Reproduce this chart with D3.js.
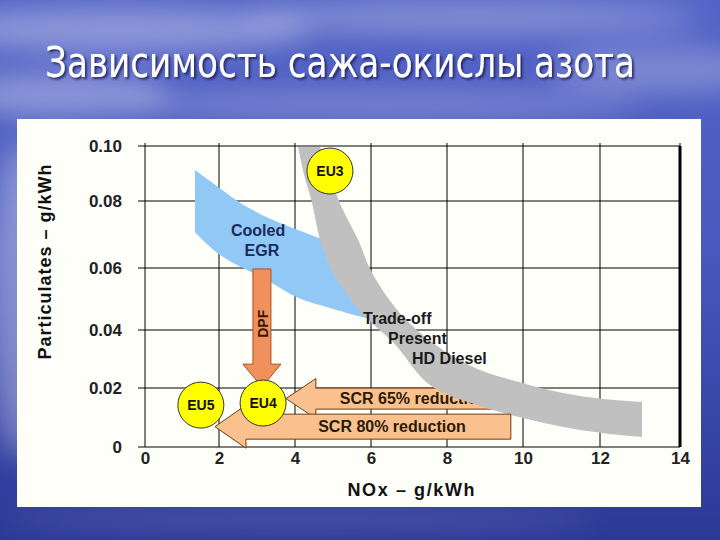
<!DOCTYPE html>
<html>
<head>
<meta charset="utf-8">
<script src="https://cdn.jsdelivr.net/npm/d3@7"></script>
<style>
  html, body { margin: 0; padding: 0; background: #3a48aa; }
  svg { display: block; }
</style>
</head>
<body>
<svg id="chart"></svg>
<script>
// Chart values (NOx g/kWh, particulates g/kWh)
const xTicks = [0, 2, 4, 6, 8, 10, 12, 14];
const yTicks = [0, 0.02, 0.04, 0.06, 0.08, 0.10];
const yTickLabels = ["0", "0.02", "0.04", "0.06", "0.08", "0.10"];

// present HD diesel trade-off band (upper / lower edge)
const tradeoffUpper = [[4.66, 0.0996], [4.92, 0.0895], [5.18, 0.0794], [5.66, 0.0684], [6.03, 0.0584],
  [6.76, 0.0455], [7.63, 0.0355], [8.79, 0.0266], [10.0, 0.0217], [11.04, 0.0183], [12.08, 0.0163], [13.05, 0.0153]];
const tradeoffLower = [[4.08, 0.0996], [4.24, 0.0895], [4.45, 0.0794], [4.66, 0.0684], [5.0, 0.0584],
  [5.76, 0.0455], [6.6, 0.0355], [7.55, 0.021], [8.79, 0.0142], [10.0, 0.0098], [11.04, 0.0068], [12.08, 0.0047], [13.05, 0.0034]];

// cooled EGR band
const egrUpper = [[1.35, 0.0913], [1.84, 0.0865], [2.74, 0.0782], [3.61, 0.0734], [4.61, 0.069], [5.32, 0.0654], [6.03, 0.0439]];
const egrLower = [[1.35, 0.0707], [2.03, 0.0639], [3.26, 0.0561], [4.05, 0.0506], [4.92, 0.0471], [5.84, 0.0439]];

// emission stages
const stageNames = ["EU3", "EU4", "EU5"];
const stageNox = [4.92, 3.16, 1.51];
const stagePm = [0.0909, 0.0149, 0.0142];

// DPF arrow (vertical)
const dpfNox = 3.13;
const dpfPmFrom = 0.0597;
const dpfPmTo = 0.0203;

// SCR arrows (horizontal)
const scrNames = ["SCR 65% reduction", "SCR 80% reduction"];
const scrTipNox = [3.76, 1.89];
const scrTailNox = [9.8, 9.68];
const scrPm = [0.0164, 0.0069];
const scrTextNox = [5.18, 4.61];

// band labels
const egrLabel = ["Cooled", "EGR"];
const egrLabelNox = [3.03, 3.13];
const egrLabelPm = [0.0713, 0.0654];
const tradeoffLabel = ["Trade-off", "Present", "HD Diesel"];
const tradeoffLabelNox = [5.79, 6.45, 7.08];
const tradeoffLabelPm = [0.0439, 0.0372, 0.0303];

const W = 720, H = 540;
const font = "'Liberation Sans', Arial, sans-serif";

const svg = d3.select("#chart").attr("width", W).attr("height", H);
const defs = svg.append("defs");

// ---- slide background ----
const bg = defs.append("linearGradient").attr("id", "sky")
  .attr("x1", 0).attr("y1", 0).attr("x2", 0).attr("y2", 1);
bg.append("stop").attr("offset", "0%").attr("stop-color", "#5464c6");
bg.append("stop").attr("offset", "45%").attr("stop-color", "#4a59bf");
bg.append("stop").attr("offset", "100%").attr("stop-color", "#2b3896");
defs.append("filter").attr("id", "blur").attr("x", "-50%").attr("y", "-50%").attr("width", "200%").attr("height", "200%")
  .append("feGaussianBlur").attr("stdDeviation", 14);
defs.append("filter").attr("id", "shadow")
  .append("feDropShadow").attr("dx", 2).attr("dy", 2).attr("stdDeviation", 1)
  .attr("flood-color", "#151a55").attr("flood-opacity", 0.8);

svg.append("rect").attr("width", W).attr("height", H).attr("fill", "url(#sky)");

const clouds = [[120, 30, 190, 22, 0.35], [470, 18, 230, 16, 0.3], [60, 95, 110, 22, 0.35], [380, 105, 260, 14, 0.25],
  [660, 70, 110, 24, 0.25], [20, 300, 30, 160, 0.35], [300, 520, 300, 8, 0.2]];
svg.append("g").attr("filter", "url(#blur)")
  .selectAll("ellipse").data(clouds).join("ellipse")
  .attr("cx", d => d[0]).attr("cy", d => d[1]).attr("rx", d => d[2]).attr("ry", d => d[3])
  .attr("fill", "#ffffff").attr("opacity", d => d[4]);

// title
svg.append("text")
  .attr("x", 45).attr("y", 77)
  .attr("font-family", "'Liberation Sans Narrow', 'Arial Narrow', 'DejaVu Sans Condensed', sans-serif")
  .attr("font-size", 42)
  .attr("textLength", 590).attr("lengthAdjust", "spacingAndGlyphs")
  .attr("fill", "#ffffff").attr("filter", "url(#shadow)")
  .text("Зависимость сажа-окислы азота");

// white panel
svg.append("rect").attr("x", 17).attr("y", 119).attr("width", 684).attr("height", 388).attr("fill", "#fffffa");

// ---- scales ----
const x = d3.scaleLinear().domain(xTicks).range([145, 219, 295, 371, 447, 523, 600, 680]);
const y = d3.scaleLinear().domain(yTicks).range([447, 388, 330, 268, 201, 146]);

const g = svg.append("g");

// grid
g.append("g").selectAll("line").data(yTicks).join("line")
  .attr("x1", x(0) - 7).attr("x2", x(14))
  .attr("y1", d => y(d)).attr("y2", d => y(d))
  .attr("stroke", "#000").attr("stroke-width", 1);
g.append("g").selectAll("line").data(xTicks).join("line")
  .attr("x1", d => x(d)).attr("x2", d => x(d))
  .attr("y1", y(0.10) - 3).attr("y2", y(0))
  .attr("stroke", "#000").attr("stroke-width", 1);
// thick right border
g.append("line").attr("x1", x(14)).attr("x2", x(14)).attr("y1", y(0.10)).attr("y2", y(0))
  .attr("stroke", "#000").attr("stroke-width", 3);

// axes (labels only)
const yAxis = d3.axisLeft(y).tickValues(yTicks).tickSize(0).tickPadding(23)
  .tickFormat((d, i) => yTickLabels[i]);
const yAxisG = g.append("g").attr("transform", `translate(${x(0)},0)`).call(yAxis);
yAxisG.select(".domain").remove();
yAxisG.selectAll("text").attr("font-family", font).attr("font-size", 17).attr("font-weight", "bold").attr("fill", "#222");

const xAxis = d3.axisBottom(x).tickValues(xTicks).tickSize(0).tickPadding(5).tickFormat(d3.format("d"));
const xAxisG = g.append("g").attr("transform", `translate(0,${y(0)})`).call(xAxis);
xAxisG.select(".domain").remove();
xAxisG.selectAll("text").attr("font-family", font).attr("font-size", 17).attr("font-weight", "bold").attr("fill", "#222");

// band path from two edges
const edge = d3.line().x(d => x(d[0])).y(d => y(d[1])).curve(d3.curveCatmullRom.alpha(0.5));
function bandPath(upper, lower) {
  return edge(upper) + "L" + edge(lower.slice().reverse()).slice(1) + "Z";
}

// cooled EGR band
g.append("path").attr("d", bandPath(egrUpper, egrLower)).attr("fill", "#92c8f6");

// DPF arrow
function downArrow(cx, yTop, yTip, shaftW, headW, headL) {
  const yHead = yTip - headL;
  return [[cx - shaftW / 2, yTop], [cx + shaftW / 2, yTop], [cx + shaftW / 2, yHead], [cx + headW / 2, yHead],
    [cx, yTip], [cx - headW / 2, yHead], [cx - shaftW / 2, yHead]];
}
g.append("path")
  .attr("d", d3.line()(downArrow(x(dpfNox), y(dpfPmFrom), y(dpfPmTo), 18, 38, 23)) + "Z")
  .attr("fill", "#f0905c").attr("stroke", "#a8501f").attr("stroke-width", 1);
g.append("text")
  .attr("transform", `translate(${x(dpfNox) + 1},${y(0.042)}) rotate(-90)`)
  .attr("text-anchor", "middle").attr("dy", "0.35em")
  .attr("font-family", font).attr("font-size", 14).attr("font-weight", "bold").attr("fill", "#3a1705")
  .text("DPF");

// SCR arrows
function leftArrow(xTip, xTail, cy, bodyH, headH, headL) {
  const xb = xTip + headL;
  return [[xTip, cy], [xb, cy - headH / 2], [xb, cy - bodyH / 2], [xTail, cy - bodyH / 2],
    [xTail, cy + bodyH / 2], [xb, cy + bodyH / 2], [xb, cy + headH / 2]];
}
const scrBody = [21, 25], scrHead = [40, 43], scrHeadL = [30, 31];
function drawScr(i) {
  g.append("path")
    .attr("d", d3.line()(leftArrow(x(scrTipNox[i]), x(scrTailNox[i]), y(scrPm[i]), scrBody[i], scrHead[i], scrHeadL[i])) + "Z")
    .attr("fill", "#fac18e").attr("stroke", "#6e3a12").attr("stroke-width", 1);
  g.append("text")
    .attr("x", x(scrTextNox[i])).attr("y", y(scrPm[i])).attr("dy", "0.35em")
    .attr("font-family", font).attr("font-size", 16).attr("font-weight", "bold").attr("fill", "#2b1a08")
    .text(scrNames[i]);
}
drawScr(0);

// trade-off band (covers SCR 65% arrow end)
g.append("path").attr("d", bandPath(tradeoffUpper, tradeoffLower)).attr("fill", "#c0c0c0");

g.append("g").selectAll("text").data(tradeoffLabel).join("text")
  .attr("x", (d, i) => x(tradeoffLabelNox[i])).attr("y", (d, i) => y(tradeoffLabelPm[i])).attr("dy", "0.35em")
  .attr("font-family", font).attr("font-size", 16).attr("font-weight", "bold").attr("fill", "#1a1a1a")
  .text(d => d);

drawScr(1);

// stage circles
const stages = g.append("g").selectAll("g").data(stageNames).join("g")
  .attr("transform", (d, i) => `translate(${x(stageNox[i])},${y(stagePm[i])})`);
stages.append("circle").attr("r", 23).attr("fill", "#ffff00").attr("stroke", "#333").attr("stroke-width", 1);
stages.append("text").attr("text-anchor", "middle").attr("dy", "0.36em")
  .attr("font-family", font).attr("font-size", 14).attr("font-weight", "bold").attr("fill", "#111")
  .text(d => d);

// EGR label
g.append("g").selectAll("text").data(egrLabel).join("text")
  .attr("x", (d, i) => x(egrLabelNox[i])).attr("y", (d, i) => y(egrLabelPm[i]))
  .attr("text-anchor", "middle").attr("dy", "0.35em")
  .attr("font-family", font).attr("font-size", 16).attr("font-weight", "bold").attr("fill", "#1b2a5c")
  .text(d => d);

// axis titles
svg.append("text")
  .attr("x", 411).attr("y", 490).attr("text-anchor", "middle").attr("dy", "0.35em")
  .attr("textLength", 127).attr("lengthAdjust", "spacing")
  .attr("font-family", font).attr("font-size", 18).attr("font-weight", "bold").attr("fill", "#111")
  .text("NOx \u2013 g/kWh");
svg.append("text")
  .attr("transform", "translate(45,262) rotate(-90)")
  .attr("text-anchor", "middle").attr("dy", "0.35em")
  .attr("textLength", 195).attr("lengthAdjust", "spacing")
  .attr("font-family", font).attr("font-size", 18).attr("font-weight", "bold").attr("fill", "#111")
  .text("Particulates \u2013 g/kWh");
</script>
</body>
</html>
